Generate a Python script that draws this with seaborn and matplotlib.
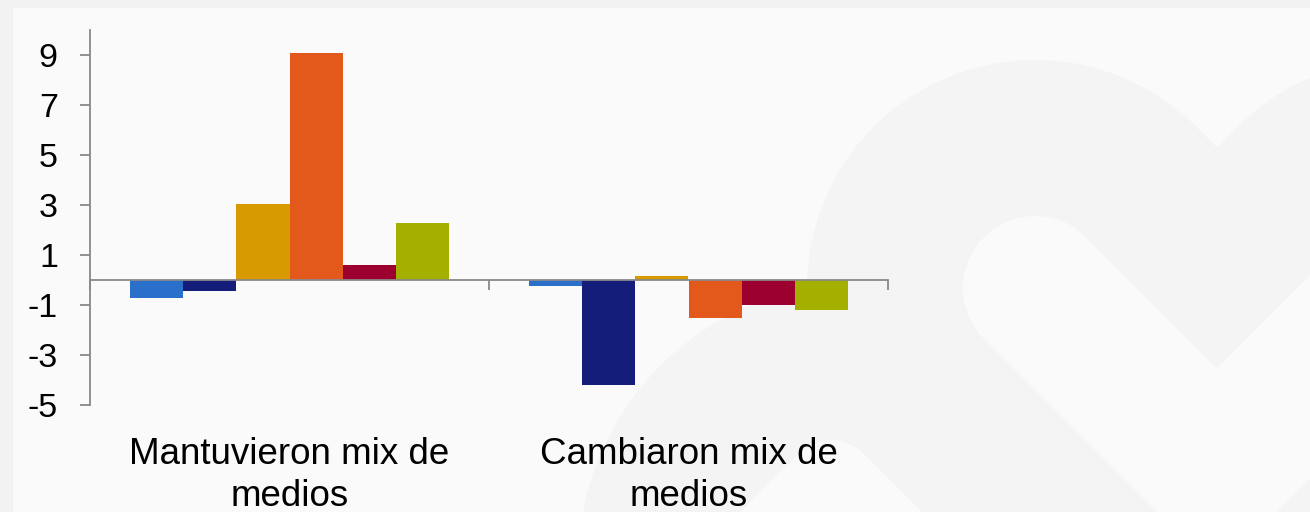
import numpy as np
import pandas as pd
import matplotlib
matplotlib.use("Agg")
import matplotlib.pyplot as plt
from matplotlib.patches import Rectangle, Polygon
import seaborn as sns

# ---- data ----
grupos = ["Mantuvieron mix de\nmedios", "Cambiaron mix de\nmedios"]
series = ["Serie 1", "Serie 2", "Serie 3", "Serie 4", "Serie 5", "Serie 6"]
valores_mantuvieron = [-0.7, -0.45, 3.05, 9.1, 0.6, 2.3]
valores_cambiaron = [-0.25, -4.2, 0.15, -1.5, -1.0, -1.2]
colores = ["#2A6FC9", "#141E7A", "#D79A00", "#E2591B", "#9B002F", "#A5AF00"]
y_ticks = [-5, -3, -1, 1, 3, 5, 7, 9]

df = pd.DataFrame({
    "grupo": [grupos[0]] * len(series) + [grupos[1]] * len(series),
    "serie": series + series,
    "valor": valores_mantuvieron + valores_cambiaron,
})

sns.set_theme(style="white")
plt.rcParams["font.family"] = ["Liberation Sans", "DejaVu Sans"]

W, H = 1310, 512
fig = plt.figure(figsize=(W / 100, H / 100), dpi=100, facecolor="#F2F2F2")

# ---- background panel with faint watermark ----
bg = fig.add_axes([0, 0, 1, 1], zorder=0)
bg.set_xlim(0, W)
bg.set_ylim(H, 0)
bg.axis("off")
bg.add_patch(Rectangle((13, 8), W, H, facecolor="#FAFAFA", edgecolor="none"))


def capsule(p0, p1, r, n=90):
    p0, p1 = np.asarray(p0, float), np.asarray(p1, float)
    d = p1 - p0
    ang = np.arctan2(d[1], d[0])
    a1 = np.linspace(ang + np.pi / 2, ang + 3 * np.pi / 2, n)
    a2 = np.linspace(ang - np.pi / 2, ang + np.pi / 2, n)
    pts0 = p0 + r * np.c_[np.cos(a1), np.sin(a1)]
    pts1 = p1 + r * np.c_[np.cos(a2), np.sin(a2)]
    return np.vstack([pts0, pts1])


def stroke(path, r, color):
    for a, b in zip(path[:-1], path[1:]):
        bg.add_patch(Polygon(capsule(a, b, r), closed=True,
                             facecolor=color, edgecolor="none"))


light, shade = "#FAFAFA", "#F4F4F4"
heart1 = [(1035, 288), (1217, 470), (1399, 288)]
heart2_outer = [(860, 565), (1160, 865)]
heart2_core = [(631, 685), (831, 485), (1031, 685)]
stroke(heart2_outer, 282, shade)
stroke(heart1, 228, shade)
stroke(heart2_core, 45, light)
stroke(heart1, 72, light)

# ---- main chart ----
ax = fig.add_axes([90 / W, 1 - 405 / H, (888 - 90) / W, 375 / H], zorder=2)
ax.set_facecolor("none")
sns.barplot(data=df, x="grupo", y="valor", hue="serie", order=grupos,
            hue_order=series, palette=colores, width=0.8, saturation=1,
            linewidth=0, legend=False, ax=ax)
ax.set_xlim(-0.5, 1.5)
ax.set_ylim(-5, 10)
ax.set_xlabel("")
ax.set_ylabel("")

axis_col = "#898989"
for s in ["top", "right"]:
    ax.spines[s].set_visible(False)
ax.spines["left"].set_color(axis_col)
ax.spines["left"].set_linewidth(1.3)
ax.spines["bottom"].set_position(("data", 0))
ax.spines["bottom"].set_color(axis_col)
ax.spines["bottom"].set_linewidth(1.3)

ax.set_xticks([-0.5, 0.5, 1.5])
ax.set_xticklabels([])
ax.tick_params(axis="x", bottom=True, length=7.2, width=1.3, color=axis_col,
               direction="out")
ax.set_yticks(y_ticks)
ax.set_yticklabels([str(v) for v in y_ticks])
ax.tick_params(axis="y", left=True, length=7.2, width=1.3, color=axis_col,
               direction="out", labelsize=24.5, pad=16, labelcolor="black")

sec = ax.secondary_xaxis("bottom")
sec.set_xticks([0, 1])
sec.set_xticklabels(grupos)
sec.tick_params(length=0, pad=23, labelsize=26.5, labelcolor="black")
sec.spines["bottom"].set_visible(False)
for lbl in sec.get_xticklabels():
    lbl.set_linespacing(1.25)

fig.savefig("out.png", dpi=100, facecolor=fig.get_facecolor())
